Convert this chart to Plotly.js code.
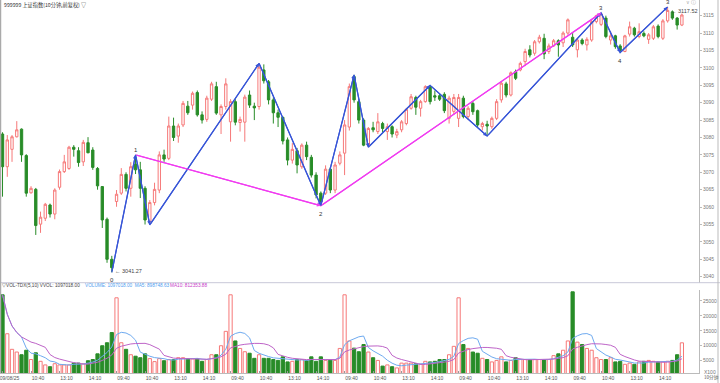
<!DOCTYPE html>
<html><head><meta charset="utf-8">
<script src="https://cdn.plot.ly/plotly-3.0.1.min.js"></script>
<style>html,body{margin:0;padding:0;background:#fff}#c{width:720px;height:383px}</style>
</head><body><div id="c"></div>
<script>
const open = [
3081.0,3071.6,3076.6,3080.2,3082.4,3074.8,3064.1,3065.1,3055.1,3056.8,
3060.6,3058.0,3065.7,3070.2,3071.1,3077.2,3076.2,3073.0,3078.5,3076.4,
3071.1,3065.9,3056.5,3045.0,
3061.6,3064.0,3069.4,3065.4,3072.4,3070.7,3065.4,3055.8,3061.3,3064.9,
3075.0,3074.0,3083.3,3080.4,3083.6,3089.0,3089.3,3092.9,3086.5,3085.2,
3091.0,3094.6,3086.5,3088.9,
3084.5,3090.3,3084.3,3084.4,3092.2,3089.0,3088.9,3099.4,3096.0,3090.8,
3087.1,3085.8,3079.3,3073.5,3076.2,3071.6,3077.8,3074.3,3069.2,3064.0,
3064.0,3070.9,3064.9,3072.6,
3075.5,3083.0,3097.5,3090.3,3085.0,3077.8,3082.8,3081.7,3084.0,3081.7,
3083.1,3080.7,3082.2,3084.0,3088.4,3091.5,3088.4,3090.3,3094.6,3092.0,
3092.0,3092.4,3085.5,3087.5,
3085.5,3091.3,3086.0,3089.8,3087.7,3083.1,3083.8,3083.1,3085.5,3090.8,
3095.4,3092.2,3098.9,3099.4,3101.8,3105.2,3104.2,3107.5,3108.5,3104.7,
3106.3,3107.8,3107.2,3110.0,
3108.8,3105.2,3108.0,3106.6,3108.0,3113.3,3112.5,3114.3,3108.0,3109.2,
3106.3,3104.7,3109.7,3111.4,3109.0,3109.9,3108.2,3108.5,3112.0,3108.5,
3113.5,3116.1,3114.3,3112.3];
const close = [
3071.6,3079.3,3080.2,3082.2,3075.0,3064.0,3065.4,3054.7,3057.1,3060.8,
3058.0,3064.9,3070.2,3073.0,3077.2,3076.6,3072.8,3078.6,3075.6,3071.4,
3066.1,3056.3,3045.0,3042.6,
3063.7,3069.4,3065.4,3071.6,3070.7,3065.4,3056.3,3061.3,3065.1,3075.0,
3073.8,3083.3,3080.0,3083.3,3089.8,3087.1,3092.7,3086.5,3085.0,3091.3,
3095.4,3087.0,3088.9,3095.4,
3090.3,3084.4,3085.2,3091.6,3089.3,3088.5,3100.2,3096.3,3090.8,3087.1,
3085.8,3079.0,3073.5,3076.6,3072.1,3077.8,3074.5,3069.2,3063.5,3061.5,
3070.9,3064.9,3072.1,3075.0,
3083.6,3094.6,3090.8,3085.0,3077.8,3082.6,3082.2,3084.5,3082.6,3083.1,
3081.0,3081.7,3084.5,3088.1,3091.7,3088.7,3090.3,3094.6,3090.3,3091.6,
3091.0,3087.7,3091.3,3091.5,
3091.5,3086.0,3088.4,3087.4,3083.6,3084.0,3083.3,3085.5,3090.3,3095.6,
3092.2,3098.6,3097.0,3101.3,3104.7,3103.7,3107.5,3108.8,3104.0,3106.3,
3107.8,3106.6,3110.0,3113.8,
3106.6,3108.0,3107.0,3108.2,3113.3,3115.0,3115.5,3109.0,3109.2,3106.1,
3105.0,3109.2,3111.8,3109.5,3110.4,3109.2,3109.5,3111.8,3109.0,3113.5,
3116.5,3114.3,3112.3,3115.2];
const high = [
3081.5,3080.7,3080.7,3084.7,3082.6,3075.2,3066.0,3065.5,3058.7,3061.2,
3061.0,3065.4,3070.8,3075.0,3077.6,3077.8,3077.2,3079.3,3080.1,3077.2,
3071.5,3066.0,3057.0,3046.0,
3064.9,3071.2,3070.0,3072.9,3075.0,3073.0,3066.0,3062.0,3067.0,3076.0,
3076.5,3086.0,3085.7,3084.0,3090.5,3090.5,3093.2,3093.5,3087.5,3092.0,
3096.0,3096.0,3089.5,3097.0,
3091.0,3091.0,3086.0,3092.3,3093.5,3090.0,3101.3,3101.0,3096.5,3091.5,
3088.0,3086.0,3080.0,3078.4,3077.0,3078.3,3078.8,3075.0,3070.0,3064.5,
3072.0,3071.5,3073.0,3076.0,
3085.0,3095.5,3098.0,3091.0,3085.5,3083.0,3084.5,3087.0,3084.5,3084.0,
3083.5,3082.5,3085.0,3088.5,3092.5,3092.0,3090.8,3095.0,3095.0,3093.5,
3092.5,3093.0,3092.0,3092.5,
3092.5,3092.0,3089.0,3090.5,3088.0,3084.5,3084.8,3086.0,3091.0,3096.0,
3096.0,3099.0,3099.5,3101.8,3105.5,3106.5,3108.0,3109.5,3109.8,3107.0,
3108.3,3108.2,3110.5,3114.2,
3110.0,3108.5,3108.5,3108.8,3113.8,3115.3,3115.8,3115.0,3110.5,3109.5,
3106.8,3109.5,3113.3,3111.8,3112.8,3110.5,3110.0,3112.3,3112.5,3114.0,
3117.52,3116.5,3114.6,3115.6];
const low = [
3063.0,3068.7,3073.0,3080.0,3073.0,3063.0,3063.9,3052.0,3052.6,3056.0,
3057.0,3056.5,3065.0,3069.8,3070.7,3074.5,3071.6,3071.8,3075.5,3070.7,
3065.0,3054.0,3044.0,3041.27,
3060.1,3063.5,3064.5,3063.0,3069.5,3062.6,3055.0,3054.9,3060.5,3064.0,
3073.0,3073.5,3079.0,3078.5,3083.0,3086.5,3088.0,3086.0,3084.0,3084.5,
3090.5,3086.5,3081.0,3088.0,
3078.8,3083.5,3081.7,3078.8,3088.5,3085.0,3088.0,3095.5,3089.5,3084.0,
3083.0,3078.0,3072.0,3072.5,3069.7,3071.0,3073.5,3068.5,3062.5,3060.4,
3063.5,3064.0,3064.0,3072.0,
3069.2,3082.0,3090.0,3084.0,3077.5,3077.2,3081.5,3081.0,3081.5,3079.3,
3080.0,3079.8,3081.5,3083.5,3088.0,3086.5,3086.0,3090.0,3089.5,3090.5,
3090.5,3087.0,3084.0,3086.5,
3083.0,3085.5,3085.0,3086.5,3083.0,3082.0,3080.4,3082.5,3085.0,3090.0,
3091.5,3091.8,3096.5,3099.0,3100.5,3103.0,3103.5,3107.0,3102.5,3104.0,
3106.0,3103.2,3106.0,3109.5,
3106.0,3103.0,3106.5,3105.0,3107.5,3112.8,3112.0,3108.5,3106.7,3105.5,
3104.4,3104.5,3109.0,3109.0,3108.5,3108.8,3106.9,3108.0,3108.5,3108.0,
3113.0,3113.8,3111.0,3112.0];
const volume = [
27000,14000,8800,7900,7000,8500,5400,7650,4800,3600,
3000,4000,3600,3600,3600,4200,4200,4000,5000,5400,
7300,10000,11000,14400,
26000,11000,8800,7000,6500,6000,7300,5700,4700,5700,
5000,5400,5400,6000,6000,5700,5600,5600,4800,5400,
7000,7000,10000,14800,
27000,11600,9100,8000,7500,5800,7000,5800,5800,5400,
5100,6300,4600,4800,5400,5400,5100,6300,4800,6300,
5100,5400,5100,9100,
27000,11600,9200,8000,10400,7900,6000,5100,3200,3600,
3000,2600,4200,4200,4200,4000,3800,4800,4600,4800,
5400,5400,7000,9800,
26000,10400,9100,7900,7500,5800,5400,4600,5100,6300,
4600,5100,6000,5400,5400,5400,5400,5400,5400,5400,
6700,7300,8500,11600,
28000,11200,10400,9100,8500,6000,5400,5400,6000,4600,
4800,3800,4200,3800,4600,4800,5100,4800,4600,4600,
4800,5100,7000,10970];

const tickIdx = [0,6,12,18,24,30,36,42,48,54,60,66,72,78,84,90,96,102,108,114,120,126,132,138];
const tickText = ['09/08/25','10:40','13:10','14:10','09:40','10:40','13:10','14:10','09:40','10:40','13:10','14:10',
                  '09:40','10:40','13:10','14:10','09:40','10:40','13:10','14:10','09:40','10:40','13:10','14:10'];
const priceTicks = [3040,3045,3050,3055,3060,3065,3070,3075,3080,3085,3090,3095,3100,3105,3110,3115];
const volTicks = [5000,10000,15000,20000,25000];
const volTickText = ['5000','10000','15000','20000','25000'];

const zigIdx  = [23,28,31,54,67,74,77,90,102,126,130,140];
const zigType = ['L','H','L','H','L','H','L','H','L','H','L','H'];
const trendIdx  = [28,67,126];
const trendType = ['H','L','H'];
const pivotIdx  = [23,28,67,126,130,140];
const pivotType = ['L','H','L','H','L','H'];
const pivotText = ['0','1','2','3','4','3'];

const title = '999999 上证指数(10分钟,前复权) ▽';
const volHeader1 = '▽VOL-TDX(5,10) VVOL: 1097018.00';
const volHeader2 = 'VOLUME: 1097018.00  MA5: 898748.63';
const volHeader3 = 'MA10: 812353.88';

const UP = 'rgb(246,120,120)', DOWN = 'rgb(40,140,40)';
const BLUE = 'rgb(55,85,215)', MAG = 'rgb(240,60,240)';
const N = open.length;
const xs = Array.from({length:N}, (_,i)=>i);
const pv = (i,t) => t==='H' ? high[i] : low[i];

function ma(arr, n){ return arr.map((_,i)=>{ const s=Math.max(0,i-n+1); let t=0; for(let k=s;k<=i;k++) t+=arr[k]; return t/(i-s+1); }); }

const isUp = xs.map(i=>close[i]>=open[i]);

const traces = [
 {type:'candlestick', x:xs, open:open, high:high, low:low, close:close, xaxis:'x', yaxis:'y',
  increasing:{line:{color:UP,width:1}, fillcolor:'#ffffff'},
  decreasing:{line:{color:DOWN,width:1}, fillcolor:DOWN}, whiskerwidth:0, hoverinfo:'skip'},
 {type:'scatter', mode:'lines', x:trendIdx, y:trendIdx.map((i,k)=>pv(i,trendType[k])), line:{color:MAG,width:1.3}, xaxis:'x', yaxis:'y', hoverinfo:'skip'},
 {type:'scatter', mode:'lines', x:zigIdx, y:zigIdx.map((i,k)=>pv(i,zigType[k])), line:{color:BLUE,width:1.3}, xaxis:'x', yaxis:'y', hoverinfo:'skip'},
 {type:'bar', x:xs, y:volume, xaxis:'x', yaxis:'y2', width:0.68,
  marker:{color:isUp.map(u=>u?'rgba(255,255,255,0)':DOWN), line:{color:isUp.map(u=>u?UP:DOWN), width:1}}, hoverinfo:'skip'},
 {type:'scatter', mode:'lines', x:xs, y:ma(volume,5), line:{color:'rgb(110,170,240)',width:1}, xaxis:'x', yaxis:'y2', hoverinfo:'skip'},
 {type:'scatter', mode:'lines', x:xs, y:ma(volume,10), line:{color:'rgb(190,100,200)',width:1}, xaxis:'x', yaxis:'y2', hoverinfo:'skip'}
];

const F = 'Liberation Sans, Arial, sans-serif';
const ann = [];
pivotIdx.forEach((i,k)=>{
  const t = pivotType[k];
  ann.push({x:i, y:pv(i,t), xref:'x', yref:'y', text:pivotText[k], showarrow:false,
    yshift: t==='H'?5:-8, font:{size:6,color:'#333',family:F}});
});
for(let k=1;k<zigIdx.length;k++){
  ann.push({x:zigIdx[k], y:pv(zigIdx[k],zigType[k]), ax:zigIdx[k-1], ay:pv(zigIdx[k-1],zigType[k-1]),
   xref:'x', yref:'y', axref:'x', ayref:'y', text:'', showarrow:true, arrowhead:2, arrowsize:0.7, arrowwidth:1.1, arrowcolor:BLUE, standoff:0});
}
for(let k=1;k<trendIdx.length;k++){
  ann.push({x:trendIdx[k], y:pv(trendIdx[k],trendType[k]), ax:trendIdx[k-1], ay:pv(trendIdx[k-1],trendType[k-1]),
   xref:'x', yref:'y', axref:'x', ayref:'y', text:'', showarrow:true, arrowhead:2, arrowsize:0.7, arrowwidth:1.1, arrowcolor:MAG, standoff:0});
}
let iMin=0,iMax=0; for(let i=0;i<N;i++){ if(low[i]<low[iMin]) iMin=i; if(high[i]>high[iMax]) iMax=i; }
ann.push({x:iMin, y:low[iMin], xref:'x', yref:'y', text:'← '+low[iMin].toFixed(2), showarrow:false, xanchor:'left', xshift:1, yshift:1, font:{size:5.5,color:'#444',family:F}});
ann.push({x:iMax, y:high[iMax], xref:'x', yref:'y', text:'← '+high[iMax].toFixed(2), showarrow:false, xanchor:'left', xshift:1, yshift:-4, font:{size:5.5,color:'#444',family:F}});
ann.push({xref:'paper', yref:'paper', x:0.003, y:0.987, xanchor:'left', yanchor:'middle', text:title, showarrow:false, font:{size:5.2,color:'#333',family:'Noto Sans CJK SC, sans-serif'}});
ann.push({xref:'paper', yref:'paper', x:0.999, y:0.994, xanchor:'right', yanchor:'middle', text:'∨ ⓘ', showarrow:false, font:{size:4.6,color:'#aaa',family:F}});
ann.push({xref:'paper', yref:'paper', x:0.0, y:0.2346, xanchor:'left', yanchor:'middle', text:volHeader1, showarrow:false, font:{size:4.7,color:'#444',family:F}});
ann.push({xref:'paper', yref:'paper', x:0.119, y:0.2346, xanchor:'left', yanchor:'middle', text:volHeader2, showarrow:false, font:{size:4.7,color:'rgb(80,160,240)',family:F}});
ann.push({xref:'paper', yref:'paper', x:0.241, y:0.2346, xanchor:'left', yanchor:'middle', text:volHeader3, showarrow:false, font:{size:4.7,color:'rgb(200,60,200)',family:F}});
ann.push({xref:'paper', yref:'paper', x:1.005, y:0.003, xanchor:'left', yanchor:'middle', text:'X100', showarrow:false, font:{size:5,color:'#777',family:F}});
ann.push({xref:'paper', yref:'paper', x:1.004, y:-0.0134, xanchor:'left', yanchor:'middle', text:'10分钟', showarrow:false, font:{size:4.6,color:'#555',family:'Noto Sans CJK SC, sans-serif'}});

const shapes = [
 {type:'line', xref:'paper', yref:'paper', x0:-0.01, x1:1.03, y0:0.2421, y1:0.2421, line:{color:'#c8c8d8',width:1}},
 {type:'line', xref:'paper', yref:'paper', x0:0.0007, x1:0.0007, y0:0, y1:1, line:{color:'#aaaaaa',width:1.5}},
 {type:'line', xref:'paper', yref:'paper', x0:1.0272, x1:1.0272, y0:-0.03, y1:1, line:{color:'#bbbbbb',width:1}}
];

const layout = {
 width:720, height:383, margin:{l:0,r:21,t:0,b:10,pad:0},
 paper_bgcolor:'#ffffff', plot_bgcolor:'#ffffff', showlegend:false,
 xaxis:{range:[-0.53,146.6], anchor:'y2', tickmode:'array', tickvals:tickIdx, ticktext:tickText,
   tickfont:{size:5,color:'#555',family:F}, ticks:'inside', ticklen:2, tickcolor:'#999',
   ticklabelshift:7, ticklabeloverflow:'allow', showgrid:false, zeroline:false, showline:true, linecolor:'#bbb',
   rangeslider:{visible:false}, fixedrange:true},
 yaxis:{domain:[0.2421,1], range:[3038.28,3119.5], side:'right', tickmode:'array', tickvals:priceTicks,
   ticks:'outside', ticklen:2, tickcolor:'#bbb', tickfont:{size:5,color:'#777',family:F},
   showgrid:false, zeroline:false, showline:true, linecolor:'#bbb', fixedrange:true},
 yaxis2:{domain:[0,0.2225], range:[900,28600], side:'right', tickmode:'array', tickvals:volTicks, ticktext:volTickText,
   ticks:'outside', ticklen:2, tickcolor:'#bbb', tickfont:{size:5,color:'#777',family:F},
   showgrid:false, zeroline:false, showline:true, linecolor:'#bbb', fixedrange:true},
 annotations:ann, shapes:shapes, bargap:0.3
};
Plotly.newPlot('c', traces, layout, {staticPlot:true, displayModeBar:false});
</script></body></html>
